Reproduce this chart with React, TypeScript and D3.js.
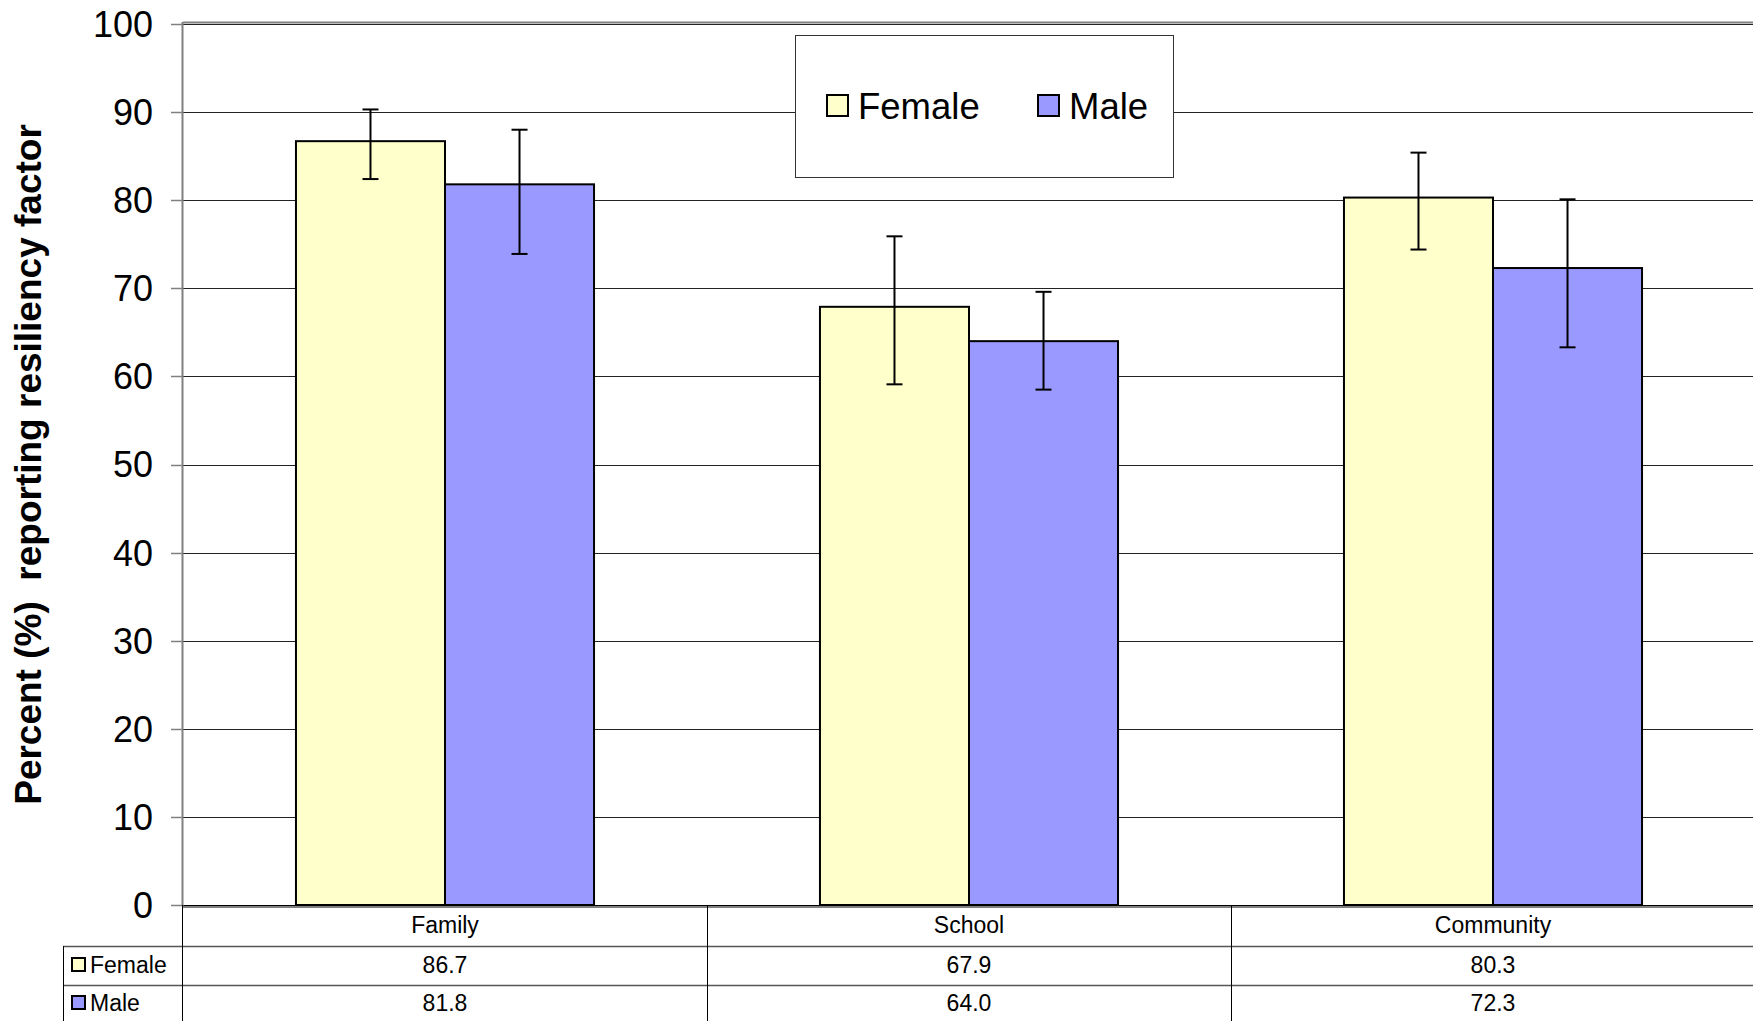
import React from "react";
import * as d3 from "d3";

const categories = ["Family", "School", "Community"];
const seriesNames = ["Female", "Male"];
const femaleValues = [86.7, 67.9, 80.3];
const maleValues = [81.8, 64.0, 72.3];
const femaleLow = [82.4, 59.1, 74.4];
const femaleHigh = [90.3, 75.9, 85.4];
const maleLow = [73.9, 58.5, 63.3];
const maleHigh = [88.0, 69.6, 80.1];
const yTicks = [0, 10, 20, 30, 40, 50, 60, 70, 80, 90, 100];
const yTitle = "Percent (%)  reporting resiliency factor";

const colors = ["#FFFFCC", "#9999FF"];
const FONT = "'Liberation Sans', Arial, Helvetica, sans-serif";

export default function App() {
  const W = 1753;
  const H = 1021;
  const left = 183;
  const top = 24;
  const bottom = 905;
  const right = 1755;

  const y = d3.scaleLinear().domain([0, 100]).range([bottom, top]);
  const x0 = d3.scaleBand<string>().domain(categories).range([left, right]).paddingInner(0).paddingOuter(0);
  const x1 = d3
    .scaleBand<string>()
    .domain(seriesNames)
    .range([0, x0.bandwidth()])
    .paddingInner(0)
    .paddingOuter(0.758);

  const values = [femaleValues, maleValues];
  const lows = [femaleLow, maleLow];
  const highs = [femaleHigh, maleHigh];

  const tableLeft = 63;
  const rowLines = [946, 985];
  const rowBaselines = [933, 973, 1011];

  return (
    <>
      <style>{"body{margin:0;}"}</style>
      <svg width={W} height={H} style={{ display: "block", background: "#fff" }} fontFamily={FONT}>
        {/* gridlines */}
        {yTicks.map((t) => (
          <line
            key={"g" + t}
            x1={left}
            x2={W}
            y1={Math.round(y(t)) + 0.5}
            y2={Math.round(y(t)) + 0.5}
            stroke={t === 0 ? "#000" : "#222"}
            strokeWidth={1}
          />
        ))}
        {/* plot border */}
        <line x1={left} x2={W} y1={top - 1.5} y2={top - 1.5} stroke="#808080" strokeWidth={2} />
        <line x1={left - 0.5} x2={left - 0.5} y1={top - 2} y2={bottom + 1} stroke="#808080" strokeWidth={2} />
        <line x1={left} x2={W} y1={bottom + 2} y2={bottom + 2} stroke="#808080" strokeWidth={2} />
        {/* ticks and labels */}
        {yTicks.map((t) => (
          <g key={"t" + t}>
            <line x1={171} x2={left} y1={Math.round(y(t)) + 0.5} y2={Math.round(y(t)) + 0.5} stroke="#808080" strokeWidth={1.5} />
            <text x={153} y={y(t)} dy="0.36em" textAnchor="end" fontSize={36} fill="#000">
              {t}
            </text>
          </g>
        ))}
        {/* y title */}
        <text
          transform={`translate(41, ${(top + bottom) / 2}) rotate(-90)`}
          textAnchor="middle"
          fontSize={37}
          fontWeight="bold"
          fill="#000"
          style={{ whiteSpace: "pre" }}
        >
          {yTitle}
        </text>
        {/* bars */}
        {categories.map((c, ci) =>
          seriesNames.map((s, si) => {
            const bx = (x0(c) as number) + (x1(s) as number);
            const bw = x1.bandwidth();
            const v = values[si][ci];
            return (
              <rect
                key={c + s}
                x={bx}
                y={y(v)}
                width={bw}
                height={y(0) - y(v)}
                fill={colors[si]}
                stroke="#000"
                strokeWidth={2}
              />
            );
          })
        )}
        {/* error bars */}
        {categories.map((c, ci) =>
          seriesNames.map((s, si) => {
            const cx = (x0(c) as number) + (x1(s) as number) + x1.bandwidth() / 2;
            const lo = y(lows[si][ci]);
            const hi = y(highs[si][ci]);
            return (
              <g key={"e" + c + s} stroke="#000" strokeWidth={2}>
                <line x1={cx} x2={cx} y1={lo} y2={hi} />
                <line x1={cx - 8} x2={cx + 8} y1={lo} y2={lo} />
                <line x1={cx - 8} x2={cx + 8} y1={hi} y2={hi} />
              </g>
            );
          })
        )}
        {/* legend */}
        <rect x={795.5} y={35.5} width={378} height={142} fill="#fff" stroke="#333" strokeWidth={1} />
        {seriesNames.map((s, si) => {
          const lx = [826, 1037][si];
          return (
            <g key={"l" + s}>
              <rect x={lx + 1} y={95} width={21} height={21} fill={colors[si]} stroke="#000" strokeWidth={2} />
              <text x={lx + 32} y={119} fontSize={36.5} fill="#000">
                {s}
              </text>
            </g>
          );
        })}
        {/* data table */}
        {rowLines.map((ry, i) => (
          <line key={"r" + i} x1={tableLeft} x2={W} y1={ry + 0.5} y2={ry + 0.5} stroke="#555" strokeWidth={1.5} />
        ))}
        <line x1={tableLeft + 0.5} x2={tableLeft + 0.5} y1={rowLines[0]} y2={H} stroke="#000" strokeWidth={1} />
        <line x1={left - 0.5} x2={left - 0.5} y1={bottom} y2={H} stroke="#000" strokeWidth={1} />
        {categories.map((c, ci) =>
          ci > 0 ? (
            <line
              key={"v" + c}
              x1={Math.round(x0(c) as number) + 0.5}
              x2={Math.round(x0(c) as number) + 0.5}
              y1={bottom}
              y2={H}
              stroke="#000"
              strokeWidth={1}
            />
          ) : null
        )}
        {categories.map((c) => (
          <text
            key={"c" + c}
            x={(x0(c) as number) + x0.bandwidth() / 2}
            y={rowBaselines[0]}
            textAnchor="middle"
            fontSize={23}
            fill="#000"
          >
            {c}
          </text>
        ))}
        {seriesNames.map((s, si) => (
          <g key={"row" + s}>
            <rect x={72} y={rowBaselines[si + 1] - 15} width={13} height={13} fill={colors[si]} stroke="#000" strokeWidth={2} />
            <text x={90} y={rowBaselines[si + 1]} fontSize={23} fill="#000">
              {s}
            </text>
            {categories.map((c, ci) => (
              <text
                key={"v" + s + c}
                x={(x0(c) as number) + x0.bandwidth() / 2}
                y={rowBaselines[si + 1]}
                textAnchor="middle"
                fontSize={23}
                fill="#000"
              >
                {values[si][ci].toFixed(1)}
              </text>
            ))}
          </g>
        ))}
      </svg>
    </>
  );
}
